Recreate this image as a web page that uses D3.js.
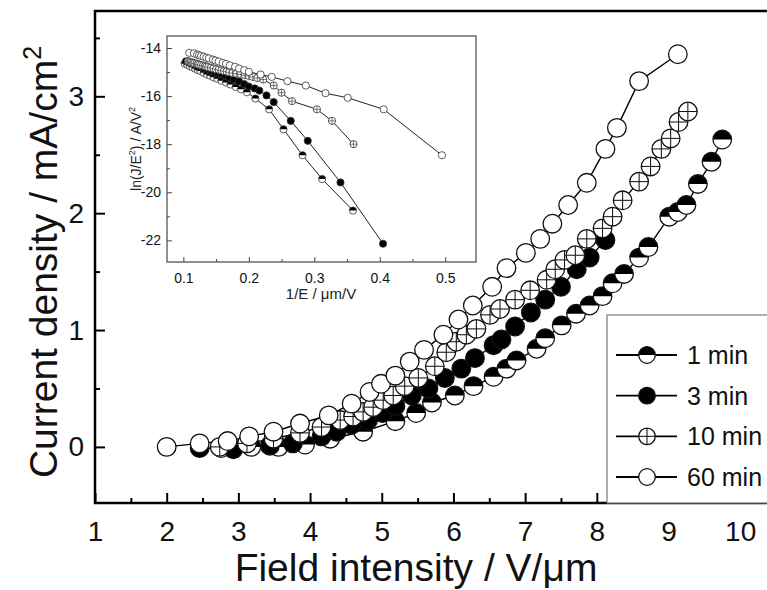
<!DOCTYPE html>
<html>
<head>
<meta charset="utf-8">
<script src="https://cdn.jsdelivr.net/npm/d3@7"></script>
<style>
  body { margin: 0; background: #fff; }
  text { font-family: "Liberation Sans", Arial, sans-serif; }
</style>
</head>
<body>
<svg id="chart" width="767" height="590"></svg>
<script>
"use strict";

// ---- main plot data: field (V/um) vs current density (mA/cm2) ----
var seriesNames = ["1 min", "3 min", "10 min", "60 min"];

var field1 = [2.76, 3.18, 3.56, 3.93, 4.28, 4.74, 5.19, 5.48, 5.70, 6.02, 6.28, 6.56, 6.74, 6.88, 7.16, 7.28, 7.51, 7.71, 7.90, 8.08, 8.22, 8.38, 8.59, 8.72, 9.01, 9.13, 9.25, 9.41, 9.60, 9.75];
var current1 = [-0.01, 0.0, 0.0, 0.02, 0.07, 0.13, 0.22, 0.29, 0.38, 0.44, 0.52, 0.60, 0.67, 0.74, 0.84, 0.93, 1.04, 1.14, 1.21, 1.29, 1.40, 1.48, 1.62, 1.71, 1.97, 2.01, 2.07, 2.25, 2.44, 2.63];

var field3 = [2.46, 2.93, 3.44, 3.76, 4.16, 4.37, 4.58, 4.81, 5.01, 5.19, 5.42, 5.65, 5.88, 6.11, 6.30, 6.56, 6.67, 6.86, 7.08, 7.28, 7.50, 7.72, 7.90, 8.12];
var current3 = [-0.01, -0.02, 0.01, 0.03, 0.09, 0.13, 0.19, 0.23, 0.29, 0.35, 0.44, 0.50, 0.59, 0.67, 0.76, 0.87, 0.92, 1.03, 1.15, 1.26, 1.37, 1.52, 1.62, 1.77];

var field10 = [2.74, 3.12, 3.49, 3.86, 4.16, 4.42, 4.60, 4.74, 4.88, 5.02, 5.16, 5.32, 5.51, 5.74, 5.90, 6.04, 6.18, 6.32, 6.51, 6.65, 6.86, 7.07, 7.30, 7.42, 7.55, 7.70, 7.86, 8.08, 8.22, 8.36, 8.59, 8.75, 8.90, 9.03, 9.14, 9.27];
var current10 = [0.0, 0.03, 0.07, 0.12, 0.17, 0.23, 0.26, 0.30, 0.34, 0.40, 0.44, 0.52, 0.59, 0.69, 0.81, 0.90, 0.96, 1.01, 1.13, 1.18, 1.26, 1.34, 1.43, 1.52, 1.60, 1.64, 1.78, 1.87, 1.97, 2.11, 2.27, 2.40, 2.55, 2.64, 2.78, 2.87];

var field60 = [2.0, 2.46, 2.85, 3.15, 3.49, 3.86, 4.26, 4.58, 4.83, 4.99, 5.19, 5.39, 5.59, 5.86, 6.07, 6.27, 6.54, 6.74, 7.01, 7.21, 7.38, 7.60, 7.86, 8.12, 8.28, 8.59, 9.13];
var current60 = [0.0, 0.03, 0.05, 0.09, 0.13, 0.20, 0.27, 0.37, 0.47, 0.54, 0.61, 0.73, 0.83, 0.96, 1.09, 1.21, 1.37, 1.53, 1.66, 1.78, 1.91, 2.07, 2.26, 2.55, 2.73, 3.13, 3.36];

// ---- inset data: 1/E (um/V) vs ln(J/E^2) ----
var invE1 = [0.102, 0.106, 0.110, 0.114, 0.118, 0.122, 0.126, 0.131, 0.136, 0.141, 0.146, 0.152, 0.158, 0.165, 0.172, 0.180, 0.188, 0.197, 0.210, 0.231, 0.253, 0.282, 0.312, 0.359];
var lnJ1 = [-14.65, -14.70, -14.76, -14.80, -14.86, -14.92, -14.96, -15.03, -15.10, -15.15, -15.22, -15.28, -15.36, -15.43, -15.52, -15.62, -15.72, -15.84, -16.10, -16.55, -17.38, -18.46, -19.45, -20.76];

var invE3 = [0.104, 0.108, 0.112, 0.116, 0.120, 0.124, 0.128, 0.133, 0.138, 0.143, 0.148, 0.153, 0.158, 0.164, 0.170, 0.177, 0.185, 0.193, 0.200, 0.209, 0.216, 0.227, 0.238, 0.264, 0.290, 0.340, 0.405];
var lnJ3 = [-14.55, -14.58, -14.62, -14.66, -14.70, -14.74, -14.78, -14.83, -14.88, -14.93, -14.98, -15.03, -15.09, -15.15, -15.22, -15.30, -15.39, -15.50, -15.60, -15.68, -15.77, -15.97, -16.25, -17.03, -17.86, -19.59, -22.14];

var invE10 = [0.107, 0.109, 0.111, 0.113, 0.115, 0.117, 0.120, 0.122, 0.124, 0.127, 0.130, 0.133, 0.135, 0.138, 0.142, 0.146, 0.150, 0.154, 0.158, 0.162, 0.166, 0.170, 0.175, 0.181, 0.188, 0.194, 0.200, 0.206, 0.213, 0.222, 0.238, 0.250, 0.266, 0.304, 0.327, 0.360];
var lnJ10 = [-14.55, -14.57, -14.58, -14.60, -14.62, -14.63, -14.65, -14.67, -14.69, -14.71, -14.73, -14.75, -14.77, -14.79, -14.82, -14.85, -14.88, -14.90, -14.93, -14.96, -14.98, -15.01, -15.04, -15.07, -15.10, -15.13, -15.16, -15.20, -15.25, -15.31, -15.56, -15.86, -16.21, -16.55, -17.03, -18.00];

var invE60 = [0.109, 0.116, 0.121, 0.124, 0.127, 0.131, 0.135, 0.139, 0.145, 0.149, 0.154, 0.160, 0.165, 0.171, 0.179, 0.185, 0.193, 0.200, 0.218, 0.235, 0.259, 0.287, 0.317, 0.351, 0.406, 0.495];
var lnJ60 = [-14.20, -14.22, -14.27, -14.30, -14.33, -14.36, -14.40, -14.43, -14.48, -14.52, -14.56, -14.62, -14.66, -14.72, -14.78, -14.85, -14.92, -14.99, -15.10, -15.20, -15.38, -15.56, -15.88, -16.07, -16.55, -18.46];

// tick values
var xTicks = [1, 2, 3, 4, 5, 6, 7, 8, 9, 10];
var yTicks = [0, 1, 2, 3];
var insetXTicks = [0.1, 0.2, 0.3, 0.4, 0.5];
var insetYTicks = [-14, -16, -18, -20, -22];

var markerTypes = ["half", "full", "cross", "open"];

function zipPts(xs, ys) {
  return xs.map(function(v, i) { return { x: v, y: ys[i] }; });
}

var mainSeries = [
  { name: seriesNames[0], type: markerTypes[0], pts: zipPts(field1, current1) },
  { name: seriesNames[1], type: markerTypes[1], pts: zipPts(field3, current3) },
  { name: seriesNames[2], type: markerTypes[2], pts: zipPts(field10, current10) },
  { name: seriesNames[3], type: markerTypes[3], pts: zipPts(field60, current60) }
];
var insetSeries = [
  { type: markerTypes[0], pts: zipPts(invE1, lnJ1) },
  { type: markerTypes[1], pts: zipPts(invE3, lnJ3) },
  { type: markerTypes[2], pts: zipPts(invE10, lnJ10) },
  { type: markerTypes[3], pts: zipPts(invE60, lnJ60) }
];

var FONT = '"Liberation Sans", Arial, sans-serif';
var svg = d3.select("#chart");

// draws one marker of a given type, centered at 0,0 of g
function drawMarker(g, type, r, sw, col) {
  if (type === "full") {
    g.append("circle").attr("r", r).attr("fill", "#000").attr("stroke", col).attr("stroke-width", sw);
    return;
  }
  g.append("circle").attr("r", r).attr("fill", "#fff");
  if (type === "half") {
    // top half filled
    g.append("path").attr("d", "M" + (-r) + ",0A" + r + "," + r + " 0 0 1 " + r + ",0Z").attr("fill", "#000");
  }
  if (type === "cross") {
    g.append("line").attr("x1", -r).attr("x2", r).attr("stroke", col).attr("stroke-width", sw * 0.8);
    g.append("line").attr("y1", -r).attr("y2", r).attr("stroke", col).attr("stroke-width", sw * 0.8);
  }
  g.append("circle").attr("r", r).attr("fill", "none").attr("stroke", col).attr("stroke-width", sw);
}

// == MAIN PLOT ==
var x = d3.scaleLinear().domain([1, 10.36]).range([95, 766]);
var y = d3.scaleLinear().domain([-0.48, 3.73]).range([503, 11]);

var line = d3.line().x(function(d) { return x(d.x); }).y(function(d) { return y(d.y); });

mainSeries.forEach(function(s) {
  svg.append("path").datum(s.pts).attr("d", line)
     .attr("fill", "none").attr("stroke", "#000").attr("stroke-width", 1.4);
});
mainSeries.forEach(function(s) {
  svg.selectAll(null).data(s.pts).enter().append("g")
     .attr("transform", function(d) { return "translate(" + x(d.x) + "," + y(d.y) + ")"; })
     .each(function() { drawMarker(d3.select(this), s.type, 9.3, 1.3, "#111"); });
});

// axes (ticks point inward)
var xAxis = d3.axisBottom(x).tickValues(xTicks).tickSize(-10).tickPadding(18).tickFormat(d3.format("d"));
var xMinor = d3.axisBottom(x).tickValues([1.5, 2.5, 3.5, 4.5, 5.5, 6.5, 7.5, 8.5, 9.5]).tickSize(-5).tickFormat("");
var yAxis = d3.axisLeft(y).tickValues(yTicks).tickSize(-10).tickPadding(11).tickFormat(d3.format("d"));
var yMinor = d3.axisLeft(y).tickValues([0.5, 1.5, 2.5, 3.5]).tickSize(-5).tickFormat("");

function styleAxis(g, size, col, sw) {
  g.select(".domain").remove();
  g.selectAll("line").attr("stroke", col).attr("stroke-width", sw);
  g.attr("font-size", size).attr("font-family", FONT);
  g.selectAll("text").attr("fill", "#111");
}
styleAxis(svg.append("g").attr("transform", "translate(0,503)").call(xAxis), 28, "#000", 2);
styleAxis(svg.append("g").attr("transform", "translate(0,503)").call(xMinor), 28, "#000", 2);
styleAxis(svg.append("g").attr("transform", "translate(95,0)").call(yAxis), 28, "#000", 2);
styleAxis(svg.append("g").attr("transform", "translate(95,0)").call(yMinor), 28, "#000", 2);

// frame (right edge runs past the picture)
svg.append("rect").attr("x", 95).attr("y", 11).attr("width", 680).attr("height", 492)
   .attr("fill", "none").attr("stroke", "#000").attr("stroke-width", 2.5);

// axis titles
svg.append("text").attr("x", 416).attr("y", 581).attr("text-anchor", "middle")
   .attr("font-size", 39).attr("fill", "#111").text("Field intensity / V/\u03bcm");
var yt = svg.append("text").attr("transform", "translate(57,262) rotate(-90)")
   .attr("text-anchor", "middle").attr("font-size", 39).attr("fill", "#111");
yt.append("tspan").text("Current density / mA/cm");
yt.append("tspan").attr("font-size", 25).attr("dy", -16).text("2");

// legend
var legend = svg.append("g");
legend.append("rect").attr("x", 607).attr("y", 315).attr("width", 170).attr("height", 188)
      .attr("fill", "#fff").attr("stroke", "#777").attr("stroke-width", 1.2);
var legendY = d3.scalePoint().domain(seriesNames).range([355, 477]);
mainSeries.forEach(function(s) {
  var ly = legendY(s.name);
  legend.append("line").attr("x1", 616).attr("x2", 677).attr("y1", ly).attr("y2", ly)
        .attr("stroke", "#000").attr("stroke-width", 1.8);
  drawMarker(legend.append("g").attr("transform", "translate(647," + ly + ")"), s.type, 8.3, 1.3, "#111");
  legend.append("text").attr("x", 687).attr("y", ly + 9).attr("font-size", 25).attr("fill", "#111").text(s.name);
});

// == INSET ==
var ix = d3.scaleLinear().domain([0.075, 0.547]).range([167, 476]);
var iy = d3.scaleLinear().domain([-22.9, -13.5]).range([262, 36]);
var inset = svg.append("g");
inset.append("rect").attr("x", 167).attr("y", 36).attr("width", 309).attr("height", 226)
     .attr("fill", "#fff").attr("stroke", "none");

var iline = d3.line().x(function(d) { return ix(d.x); }).y(function(d) { return iy(d.y); });
insetSeries.forEach(function(s) {
  inset.append("path").datum(s.pts).attr("d", iline)
       .attr("fill", "none").attr("stroke", "#222").attr("stroke-width", 1);
});
insetSeries.forEach(function(s) {
  inset.selectAll(null).data(s.pts).enter().append("g")
       .attr("transform", function(d) { return "translate(" + ix(d.x) + "," + iy(d.y) + ")"; })
       .each(function() { drawMarker(d3.select(this), s.type, 3.6, 0.8, "#333"); });
});

var ixAxis = d3.axisBottom(ix).tickValues(insetXTicks).tickSize(-5).tickPadding(11).tickFormat(d3.format(".1f"));
var ixMinor = d3.axisBottom(ix).tickValues([0.15, 0.25, 0.35, 0.45]).tickSize(-3).tickFormat("");
var iyAxis = d3.axisLeft(iy).tickValues(insetYTicks).tickSize(-5).tickPadding(6).tickFormat(function(d) { return "-" + Math.abs(d); });
var iyMinor = d3.axisLeft(iy).tickValues([-15, -17, -19, -21]).tickSize(-3).tickFormat("");
styleAxis(inset.append("g").attr("transform", "translate(0,262)").call(ixAxis), 14, "#444", 1);
styleAxis(inset.append("g").attr("transform", "translate(0,262)").call(ixMinor), 14, "#444", 1);
styleAxis(inset.append("g").attr("transform", "translate(167,0)").call(iyAxis), 14, "#444", 1);
styleAxis(inset.append("g").attr("transform", "translate(167,0)").call(iyMinor), 14, "#444", 1);

inset.append("rect").attr("x", 167).attr("y", 36).attr("width", 309).attr("height", 226)
     .attr("fill", "none").attr("stroke", "#555").attr("stroke-width", 1.3);

inset.append("text").attr("x", 321).attr("y", 299).attr("text-anchor", "middle")
     .attr("font-size", 15).attr("fill", "#222").text("1/E / \u03bcm/V");
var iyt = inset.append("text").attr("transform", "translate(141,149) rotate(-90)")
     .attr("text-anchor", "middle").attr("font-size", 14).attr("fill", "#222");
iyt.append("tspan").text("ln(J/E");
iyt.append("tspan").attr("font-size", 9).attr("dy", -6).text("2");
iyt.append("tspan").attr("dy", 6).text(") / A/V");
iyt.append("tspan").attr("font-size", 9).attr("dy", -6).text("2");
</script>
</body>
</html>
